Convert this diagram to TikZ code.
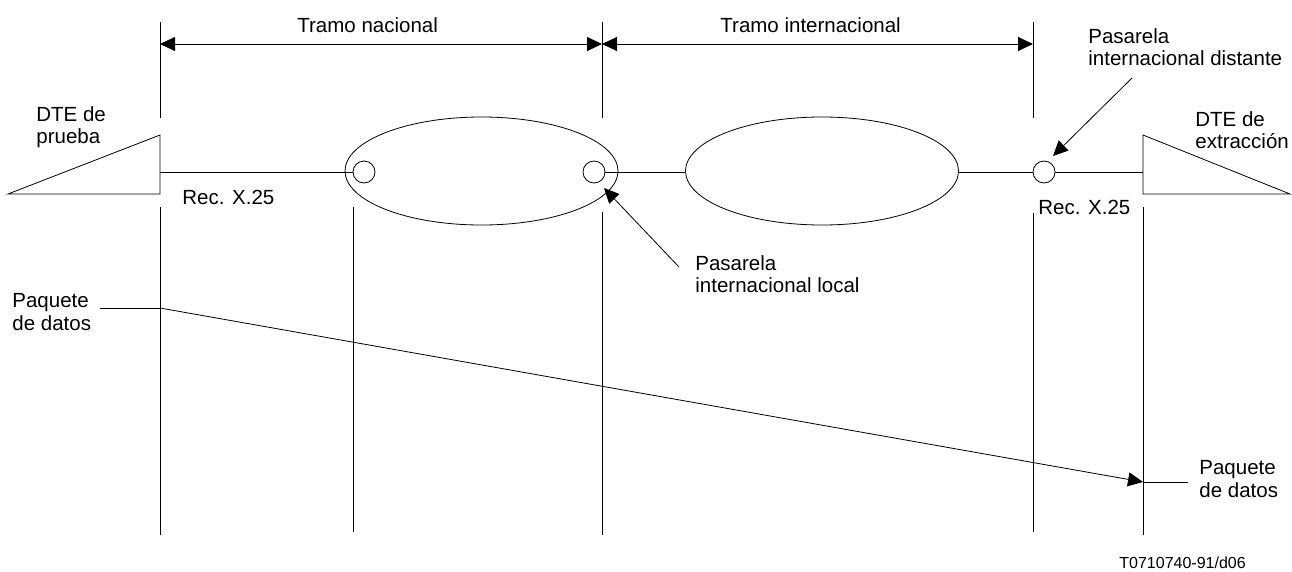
\documentclass[tikz,border=0pt]{standalone}
\usepackage{fontspec}
\setmainfont{Liberation Sans}
\usetikzlibrary{positioning,shapes.geometric,arrows.meta}
\tikzset{>={Triangle[length=15pt,width=14pt]}}
\tikzset{
  txt/.style={anchor=north west,inner sep=0pt,align=left,font=\fontsize{20.5}{22.5}\selectfont},
  red/.style={draw,ellipse,minimum width=273pt,minimum height=108pt,inner sep=0pt},
  gw/.style={draw,circle,minimum size=22pt,inner sep=0pt},
}

\begin{document}
\begin{tikzpicture}[x=1pt,y=-1pt,line width=0.8pt]
    \useasboundingbox (0,0) rectangle (1292,571);

    % redes y pasarelas
    \node[red] (nac) at (481.5,171) {};
    \node[red] (int) at (822,171) {};
    \node[gw] (gwA) at (364,172) {};
    \node[gw] (gwB) at (594,172) {};
    \node[gw] (gwC) at (1044,172) {};

    % DTE
    \draw (8,194) -- (160,135) -- (160,194) -- cycle;
    \draw (1143,135) -- (1143,194) -- (1290,194) -- cycle;
    \coordinate (dteP) at (160,172);
    \coordinate (dteE) at (1143,172);

    \draw (dteP) -- (gwA.west);
    \draw (gwB.east) -- (gwB.east -| int.west);
    \draw (gwC.west -| int.east) -- (gwC.west);
    \draw (gwC.east) -- (dteE);

    % lineas verticales
    \foreach \x in {160,602,1033}
      \draw (\x,22) -- (\x,118);
    \foreach \x/\a/\b in {160/207/535, 353/207/532, 602/212/535, 1033/213/532, 1143/207/535}
      \draw (\x,\a) -- (\x,\b);

    % tramos
    \coordinate (tA) at (160,44);
    \coordinate (tB) at (602,44);
    \coordinate (tC) at (1033,44);
    \draw[<->] (tA) -- (tB);
    \draw[<->] (tB) -- (tC);
    \node[txt] (tnac) at (297,17) {Tramo nacional};
    \node[txt] (tint) at (720,17) {Tramo internacional};

    % textos
    \node[txt] (dtep) at (36,106) {DTE de\\prueba};
    \node[txt] (dtee) at (1195,111) {DTE de\\extracción};
    \node[txt] (recA) at (182,190) {Rec. X.25};
    \node[txt] (recB) at (1038,200) {Rec. X.25};
    \node[txt] (pdist) at (1088,28) {Pasarela\\internacional distante};
    \node[txt] (ploc) at (695,255) {Pasarela\\internacional local};

    \coordinate (locS) at (679,267);
    \coordinate (locT) at (604,188);
    \coordinate (distS) at (1132,78);
    \coordinate (distT) at (1053,156);
    \path[->]
      (locS)  edge (locT)
      (distS) edge (distT);

    % paquete de datos
    \node[txt] (paqA) at (12,293) {Paquete\\de datos};
    \node[txt] (paqB) at (1199,460) {Paquete\\de datos};
    \coordinate (sA) at (100,308);
    \coordinate (eA) at (160,308);
    \coordinate (eB) at (1143,482);
    \coordinate (sB) at (1188,482);
    \draw (sA) -- (eA);
    \draw[->] (eA) -- (eB);
    \draw (eB) -- (sB);

    \node[anchor=base west,inner sep=0pt,font=\fontsize{16}{19}\selectfont] (ref) at (1119,568) {T0710740-91/d06};
\end{tikzpicture}
\end{document}
